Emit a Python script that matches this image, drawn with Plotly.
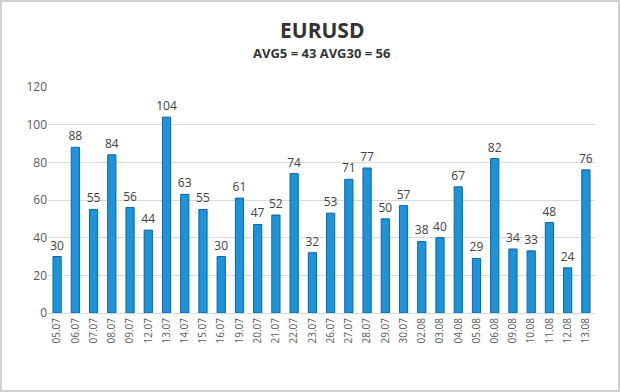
import plotly.graph_objects as go

dates = ["05.07", "06.07", "07.07", "08.07", "09.07", "12.07", "13.07", "14.07", "15.07", "16.07",
         "19.07", "20.07", "21.07", "22.07", "23.07", "26.07", "27.07", "28.07", "29.07", "30.07",
         "02.08", "03.08", "04.08", "05.08", "06.08", "09.08", "10.08", "11.08", "12.08", "13.08"]
values = [30, 88, 55, 84, 56, 44, 104, 63, 55, 30, 61, 47, 52, 74, 32, 53, 71, 77, 50, 57,
          38, 40, 67, 29, 82, 34, 33, 48, 24, 76]
y_ticks = [0, 20, 40, 60, 80, 100, 120]

W, H = 620, 392
L, R, T, B = 48, 25, 87, 79

fig = go.Figure(go.Bar(
    x=dates, y=values,
    text=[str(v) for v in values],
    textposition="outside",
    textangle=0,
    constraintext="none",
    textfont=dict(family="Open Sans, Arial", size=12, color="#404040"),
    cliponaxis=False,
    marker=dict(color="#1c93da", line=dict(color="#0d64a0", width=1)),
    width=0.45,
))

pw = W - L - R
ph = H - T - B
fig.add_shape(type="rect", xref="paper", yref="paper",
              x0=(-L + 1) / pw, x1=(pw + R - 1) / pw,
              y0=(-B + 1) / ph, y1=(ph + T - 1) / ph,
              line=dict(color="#d0d0d0", width=2), layer="below")

fig.update_layout(
    width=W, height=H,
    margin=dict(l=L, r=R, t=T, b=B),
    paper_bgcolor="white", plot_bgcolor="white",
    showlegend=False,
    annotations=[
        dict(text="<b>EURUSD</b>", x=0.5, xref="paper", xanchor="center",
             y=(ph + T - 30) / ph, yref="paper", yanchor="middle", showarrow=False,
             font=dict(family="Open Sans, Arial", size=21, color="#333333")),
        dict(text="<b>AVG5 = 43 AVG30 = 56</b>", x=0.5, xref="paper", xanchor="center",
             y=(ph + T - 53) / ph, yref="paper", yanchor="middle", showarrow=False,
             font=dict(family="Open Sans, Arial", size=13, color="#333333")),
    ],
)
fig.update_xaxes(
    type="category", tickangle=-90, automargin=False,
    tickfont=dict(family="Open Sans, Arial", size=10, color="#595959"),
    showgrid=False, showline=True, linecolor="#d9d9d9", ticks="",
)
fig.update_yaxes(
    range=[0, 120], tickvals=y_ticks, automargin=False,
    tickfont=dict(family="Open Sans, Arial", size=12, color="#595959"),
    showgrid=True, gridcolor="#d9d9d9", zeroline=False, ticks="", showline=False,
)

fig.write_html("out.html", config={"displayModeBar": False},
               post_script="document.body.style.margin='0';document.body.style.overflow='hidden';")
